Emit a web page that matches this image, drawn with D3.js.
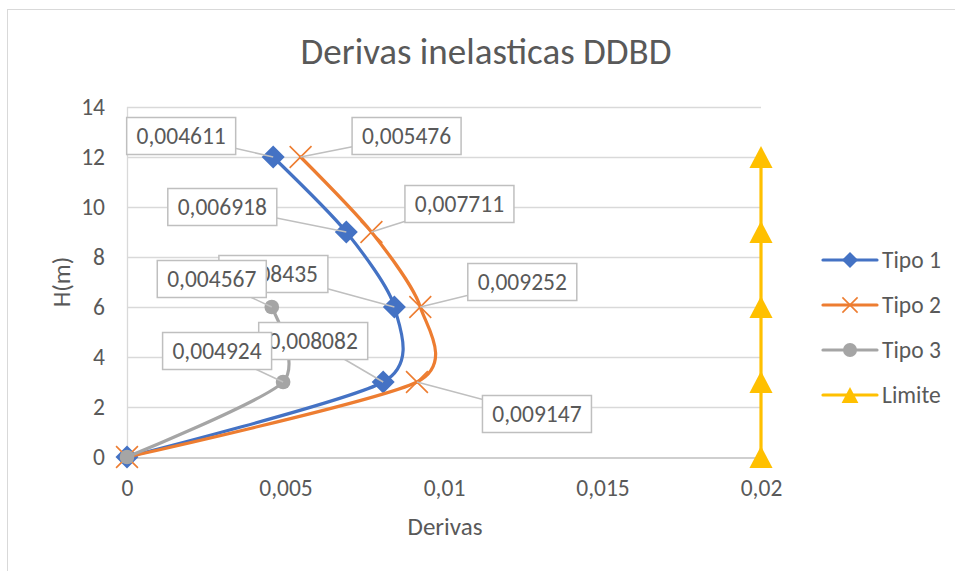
<!DOCTYPE html>
<html>
<head>
<meta charset="utf-8">
<script src="https://cdn.jsdelivr.net/npm/d3@7"></script>
<style>
  html, body { margin: 0; padding: 0; background: #fff; }
  svg text { font-family: Carlito, Calibri, Lato, "Open Sans", sans-serif; fill: #595959; }
</style>
</head>
<body>
<div id="chart"></div>
<script>
// Data
const heights = [0, 3, 6, 9, 12];
const tipo1 = [0, 0.008082, 0.008435, 0.006918, 0.004611];
const tipo2 = [0, 0.009147, 0.009252, 0.007711, 0.005476];
const tipo3Heights = [0, 3, 6];
const tipo3 = [0, 0.004924, 0.004567];
const limite = [0.02, 0.02, 0.02, 0.02, 0.02];
const xTicks = [0, 0.005, 0.01, 0.015, 0.02];
const yTicks = [0, 2, 4, 6, 8, 10, 12, 14];
const seriesNames = ["Tipo 1", "Tipo 2", "Tipo 3", "Limite"];

// label box offsets (px from the point), null = no label
const labelOffsets = {
  "Tipo 1": [null, [-70, -41], [-121, -33], [-124, -25], [-92, -21]],
  "Tipo 2": [null, [120, 32], [102, -25], [88, -28], [106, -21]],
  "Tipo 3": [null, [-66, -31], [-60, -28]],
};

const colors = {
  "Tipo 1": "#4472C4",
  "Tipo 2": "#ED7D31",
  "Tipo 3": "#A5A5A5",
  Limite: "#FFC000",
};

const width = 955;
const height = 571;
const plot = { left: 127, right: 761, top: 107, bottom: 457 };
const labelFont = "23.5px";

const fmt = (v) => String(v).replace(".", ",");

const series = [
  { name: seriesNames[0], xs: tipo1, ys: heights, marker: "diamond" },
  { name: seriesNames[1], xs: tipo2, ys: heights, marker: "x" },
  { name: seriesNames[2], xs: tipo3, ys: tipo3Heights, marker: "circle" },
  { name: seriesNames[3], xs: limite, ys: heights, marker: "triangle" },
];

const svg = d3
  .select("#chart")
  .append("svg")
  .attr("width", width)
  .attr("height", height);

// chart frame
svg
  .append("rect")
  .attr("x", 7.5)
  .attr("y", 9.5)
  .attr("width", 1000)
  .attr("height", 700)
  .attr("fill", "#fff")
  .attr("stroke", "#d9d9d9");

const xScale = d3.scaleLinear().domain([0, 0.02]).range([plot.left, plot.right]);
const yScale = d3.scaleLinear().domain([0, 14]).range([plot.bottom, plot.top]);

// gridlines
svg
  .append("g")
  .selectAll("line")
  .data(yTicks.filter((d) => d > 0))
  .enter()
  .append("line")
  .attr("x1", plot.left)
  .attr("x2", plot.right)
  .attr("y1", (d) => Math.round(yScale(d)) + 0.5)
  .attr("y2", (d) => Math.round(yScale(d)) + 0.5)
  .attr("stroke", "#d9d9d9")
  .attr("stroke-width", 1.3);

// Y-axis line
svg
  .append("line")
  .attr("x1", plot.left + 0.5)
  .attr("x2", plot.left + 0.5)
  .attr("y1", plot.top)
  .attr("y2", plot.bottom)
  .attr("stroke", "#d9d9d9")
  .attr("stroke-width", 1.3);

// X-axis
const xAxis = d3
  .axisBottom(xScale)
  .tickValues(xTicks)
  .tickSize(0)
  .tickPadding(22)
  .tickFormat((d) => fmt(d));
const gx = svg
  .append("g")
  .attr("transform", "translate(0," + (Math.round(plot.bottom) + 0.5) + ")")
  .call(xAxis);
gx.select(".domain").attr("stroke", "#bfbfbf").attr("stroke-width", 1.5);
gx.selectAll("text").style("font-size", labelFont).attr("fill", "#595959");

// Y-axis
const yAxis = d3.axisLeft(yScale).tickValues(yTicks).tickSize(0).tickPadding(22);
const gy = svg
  .append("g")
  .attr("transform", "translate(" + plot.left + ",0)")
  .call(yAxis);
gy.select(".domain").remove();
gy.selectAll("text").style("font-size", labelFont).attr("fill", "#595959");

// title and axis titles
svg
  .append("text")
  .attr("x", 486)
  .attr("y", 64)
  .attr("text-anchor", "middle")
  .style("font-size", "37px")
  .style("font-weight", 300)
  .text("Derivas inelasticas DDBD");

svg
  .append("text")
  .attr("x", 445)
  .attr("y", 535)
  .attr("text-anchor", "middle")
  .style("font-size", "25px")
  .text("Derivas");

svg
  .append("text")
  .attr("transform", "translate(70,282) rotate(-90)")
  .attr("text-anchor", "middle")
  .style("font-size", "25px")
  .text("H(m)");

// markers
const drawMarker = (g, type, color, x, y, s) => {
  if (type === "diamond") {
    g.append("path")
      .attr("d", `M${x},${y - s}L${x + s},${y}L${x},${y + s}L${x - s},${y}Z`)
      .attr("fill", color);
  } else if (type === "x") {
    const k = s * 0.95;
    g.append("path")
      .attr("d", `M${x - k},${y - k}L${x + k},${y + k}M${x - k},${y + k}L${x + k},${y - k}`)
      .attr("stroke", color)
      .attr("stroke-width", 1.6)
      .attr("fill", "none");
  } else if (type === "circle") {
    g.append("circle")
      .attr("cx", x)
      .attr("cy", y)
      .attr("r", s * 0.7)
      .attr("fill", color);
  } else if (type === "triangle") {
    g.append("path")
      .attr("d", `M${x},${y - s}L${x + s * 1.05},${y + s}L${x - s * 1.05},${y + s}Z`)
      .attr("fill", color);
  }
};

// series lines + markers (smoothed like Excel)
const line = d3
  .line()
  .x((d) => xScale(d[0]))
  .y((d) => yScale(d[1]))
  .curve(d3.curveCardinal.tension(0.25));

series.forEach((s) => {
  const pts = s.xs.map((v, i) => [v, s.ys[i]]);
  const g = svg.append("g");
  g.append("path")
    .datum(pts)
    .attr("d", line)
    .attr("fill", "none")
    .attr("stroke", colors[s.name])
    .attr("stroke-width", 3.2)
    .attr("stroke-linecap", "round");
  pts.forEach((p) => {
    const size = s.marker === "circle" ? 10.5 : s.marker === "triangle" ? 11 : 11.5;
    drawMarker(g, s.marker, colors[s.name], xScale(p[0]), yScale(p[1]), size);
  });
});

// data labels
const boxW = 109;
const boxH = 37;
series
  .filter((s) => labelOffsets[s.name])
  .forEach((s) => {
    const g = svg.append("g");
    s.xs.forEach((v, i) => {
      const off = labelOffsets[s.name][i];
      if (!off) return;
      const px = xScale(v);
      const py = yScale(s.ys[i]);
      const cx = px + off[0];
      const cy = py + off[1];
      g.append("line")
        .attr("x1", cx)
        .attr("y1", cy)
        .attr("x2", px)
        .attr("y2", py)
        .attr("stroke", "#bfbfbf")
        .attr("stroke-width", 1.5);
      g.append("rect")
        .attr("x", cx - boxW / 2)
        .attr("y", cy - boxH / 2)
        .attr("width", boxW)
        .attr("height", boxH)
        .attr("fill", "#fff")
        .attr("stroke", "#bfbfbf")
        .attr("stroke-width", 1.5);
      g.append("text")
        .attr("x", cx)
        .attr("y", cy)
        .attr("dy", "0.36em")
        .attr("text-anchor", "middle")
        .style("font-size", labelFont)
        .text(fmt(v));
    });
  });

// Legend
const legend = svg.append("g");
series.forEach((s, i) => {
  const y = 260 + i * 45;
  legend
    .append("line")
    .attr("x1", 823)
    .attr("x2", 877)
    .attr("y1", y)
    .attr("y2", y)
    .attr("stroke", colors[s.name])
    .attr("stroke-width", 3.2)
    .attr("stroke-linecap", "round");
  drawMarker(legend, s.marker, colors[s.name], 850, y, s.marker === "circle" ? 10 : 8);
  legend
    .append("text")
    .attr("x", 882)
    .attr("y", y)
    .attr("dy", "0.36em")
    .style("font-size", labelFont)
    .text(s.name);
});
</script>
</body>
</html>
